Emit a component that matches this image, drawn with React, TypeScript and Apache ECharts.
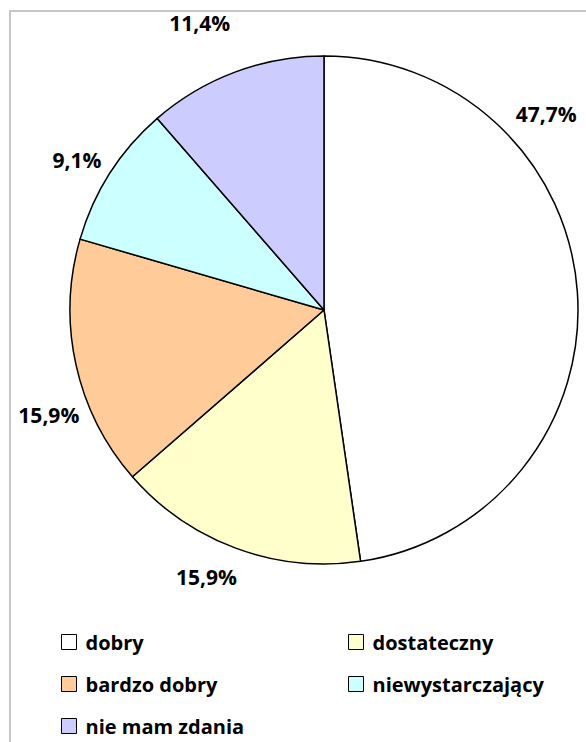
import React, { useEffect, useRef } from 'react';
import * as echarts from 'echarts';

const categories = ['dobry', 'dostateczny', 'bardzo dobry', 'niewystarczający', 'nie mam zdania'];
const values = [47.7, 15.9, 15.9, 9.1, 11.4];
const colors = ['#FFFFFF', '#FFFFCC', '#FFCC99', '#CCFFFF', '#CCCCFF'];
const legendColumn1 = ['dobry', 'bardzo dobry', 'nie mam zdania'];
const legendColumn2 = ['dostateczny', 'niewystarczający'];
// label offsets from the mid-angle position (Excel "best fit" placement)
const labelNudge: [number, number][] = [[-69, -175], [-16, -7], [10, 42], [-1, 7], [-22, -14]];

const CX = 324;
const CY = 310;
const R = 254;
const LABEL_R = 292;

const fmt = (v: number) => `${v.toFixed(1).replace('.', ',')}%`;

export default function App() {
  const ref = useRef<HTMLDivElement>(null);
  useEffect(() => {
    if (!ref.current) return;
    const chart = echarts.init(ref.current, undefined, { renderer: 'svg' });
    const total = values.reduce((a, b) => a + b, 0);
    const legendText = {
      fontFamily: 'Open Sans',
      fontWeight: 'bold' as const,
      fontSize: 20,
      color: '#000',
      lineHeight: 22,
      padding: [0, 0, 0, 4],
    };
    const legendBase = {
      orient: 'vertical' as const,
      top: 631,
      height: 110,
      padding: 0,
      itemWidth: 15,
      itemHeight: 15,
      itemGap: 20,
      icon: 'rect',
      itemStyle: { borderColor: '#000', borderWidth: 1 },
      textStyle: legendText,
      selectedMode: false,
    };
    chart.setOption({
      animation: false,
      backgroundColor: '#fff',
      graphic: [
        {
          type: 'rect',
          shape: { x: 10, y: 11, width: 700, height: 900 },
          style: { fill: 'none', stroke: '#c6c6c6', lineWidth: 2 },
          silent: true,
          z: -1,
        },
      ],
      legend: [
        { ...legendBase, data: legendColumn1, left: 61 },
        { ...legendBase, data: legendColumn2, left: 348 },
      ],
      series: [
        {
          type: 'pie',
          center: [CX, CY],
          radius: R,
          startAngle: 90,
          clockwise: true,
          silent: true,
          avoidLabelOverlap: false,
          emphasis: { disabled: true },
          data: categories.map((name, i) => ({
            name,
            value: values[i],
            itemStyle: { color: colors[i], borderColor: '#000', borderWidth: 1.5 },
          })),
          label: {
            show: true,
            position: 'outside',
            formatter: (p: any) => fmt(p.value),
            fontFamily: 'Open Sans',
            fontWeight: 'bold',
            fontSize: 21,
            color: '#000',
          },
          labelLine: { show: false },
          labelLayout: (params: any) => {
            const i = params.dataIndex;
            let start = 0;
            for (let k = 0; k < i; k++) start += values[k];
            const mid = ((start + values[i] / 2) / total) * Math.PI * 2;
            const x = CX + LABEL_R * Math.sin(mid) + labelNudge[i][0];
            const y = CY - LABEL_R * Math.cos(mid) + labelNudge[i][1];
            return { x, y, align: 'center', verticalAlign: 'middle' };
          },
        },
      ],
    });
    return () => chart.dispose();
  }, []);
  return (
    <div
      ref={ref}
      style={{ position: 'absolute', left: 0, top: 0, width: 586, height: 742 }}
    />
  );
}
